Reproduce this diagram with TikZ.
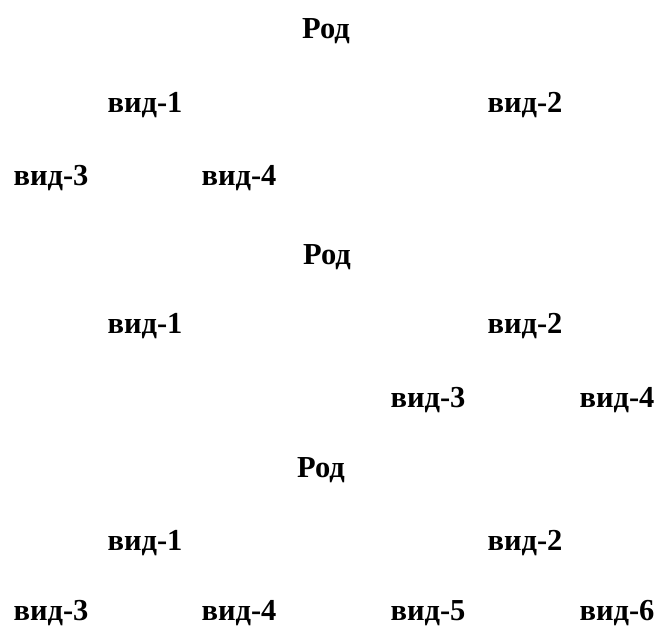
\documentclass[tikz,border=0pt]{standalone}
\usepackage{fontspec}
\setmainfont{Liberation Serif}
\begin{document}
\begin{tikzpicture}[x=1pt,y=-1pt,
  lbl/.style={inner sep=0pt,anchor=base,font=\fontsize{30.5}{36}\selectfont\bfseries}]
\useasboundingbox (0,0) rectangle (659,629);
% group 1
\node[lbl] (r1) at (326,38) {Род};
\node[lbl] (a1) at (145,112) {вид-1};
\node[lbl] (b1) at (525,112) {вид-2};
\node[lbl] (c1) at (51,185) {вид-3};
\node[lbl] (d1) at (239,185) {вид-4};
% group 2
\node[lbl] (r2) at (327,264) {Род};
\node[lbl] (a2) at (145,333) {вид-1};
\node[lbl] (b2) at (525,333) {вид-2};
\node[lbl] (c2) at (428,407) {вид-3};
\node[lbl] (d2) at (617,407) {вид-4};
% group 3
\node[lbl] (r3) at (321,477) {Род};
\node[lbl] (a3) at (145,550) {вид-1};
\node[lbl] (b3) at (525,550) {вид-2};
\node[lbl] (c3) at (51,620) {вид-3};
\node[lbl] (d3) at (239,620) {вид-4};
\node[lbl] (e3) at (428,620) {вид-5};
\node[lbl] (f3) at (617,620) {вид-6};
\end{tikzpicture}
\end{document}
